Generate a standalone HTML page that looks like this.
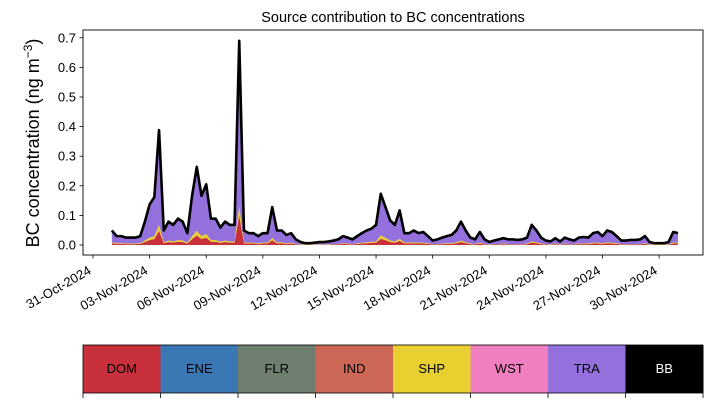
<!DOCTYPE html>
<html><head><meta charset="utf-8"><style>
html,body{margin:0;padding:0;background:#fff;}
svg{display:block;font-family:"Liberation Sans",sans-serif;}
</style></head><body>
<svg id="chart" width="713" height="402" viewBox="0 0 713 402" xmlns="http://www.w3.org/2000/svg">
<rect width="713" height="402" fill="#fff"/>
<text x="393" y="22" text-anchor="middle" font-size="14.5">Source contribution to BC concentrations</text>
<g id="layers"></g>
<rect x="83" y="30" width="620" height="225" fill="none" stroke="#000" stroke-width="0.9"/>
<g id="yticks"></g><g id="xticks"></g>
<text transform="translate(39,143) rotate(-90)" text-anchor="middle" font-size="18">BC concentration (ng m<tspan dy="-7" font-size="12">−3</tspan><tspan dy="7">)</tspan></text>
<g id="cbar"></g>
</svg>
<script>
const sources = ["DOM","ENE","FLR","IND","SHP","WST","TRA","BB"];
const colors = ["#c8313b","#3a78b5","#6e7f70","#cc6655","#e8d030","#f07fbf","#9370db","#000000"];
const startDay = 1; // days after 31-Oct
const stepDays = 0.25;
const tra = [.04,.024,.024,.02,.02,.02,.024,.064,.112,.132,
.32,.04,.064,.056,.072,.064,.032,.136,.216,.136,
.168,.072,.072,.048,.064,.056,.056,.56,.04,.032,
.032,.024,.032,.032,.104,.04,.04,.028,.032,.016,
.008,.004,.004,.006,.008,.008,.01,.012,.016,.024,
.02,.016,.024,.032,.04,.044,.056,.14,.104,.068,
.056,.096,.032,.032,.04,.032,.036,.024,.012,.016,
.02,.024,.028,.04,.064,.04,.02,.016,.036,.016,
.008,.012,.016,.018,.016,.016,.014,.016,.02,.056,
.04,.02,.012,.01,.018,.01,.02,.016,.012,.02,
.022,.02,.032,.036,.024,.04,.036,.024,.012,.012,
.014,.014,.016,.024,.008,.004,.004,.004,.008,.036,
.032];
const dom = [.006,.004,.004,.003,.003,.003,.004,.01,.017,.02,
.048,.006,.01,.008,.011,.01,.005,.02,.032,.02,
.025,.011,.011,.007,.01,.008,.008,.1,.006,.005,
.005,.004,.005,.005,.016,.006,.006,.004,.005,.002,
.001,.001,.001,.001,.001,.001,.001,.002,.002,.004,
.003,.002,.004,.005,.006,.007,.008,.021,.016,.01,
.008,.014,.005,.005,.006,.005,.005,.004,.002,.002,
.003,.004,.004,.006,.01,.006,.003,.002,.005,.002,
.001,.002,.002,.003,.002,.002,.002,.002,.003,.008,
.006,.003,.002,.001,.003,.001,.003,.002,.002,.003,
.003,.003,.005,.005,.004,.006,.005,.004,.002,.002,
.002,.002,.002,.004,.001,.001,.001,.001,.001,.005,
.005];
const shp = [.003,.002,.002,.002,.002,.002,.002,.005,.008,.01,
.02,.003,.005,.004,.006,.005,.003,.01,.016,.01,
.012,.006,.006,.004,.005,.004,.004,.03,.003,.003,
.003,.002,.003,.003,.008,.003,.003,.002,.003,.001,
.001,.001,.001,.001,.001,.001,.001,.001,.001,.002,
.002,.001,.002,.003,.003,.004,.004,.012,.008,.005,
.004,.007,.003,.003,.003,.003,.003,.002,.001,.001,
.002,.002,.002,.003,.005,.003,.002,.001,.003,.001,
.001,.001,.001,.002,.001,.001,.001,.001,.002,.004,
.003,.002,.001,.001,.002,.001,.002,.001,.001,.002,
.002,.002,.003,.003,.002,.003,.003,.002,.001,.001,
.001,.001,.001,.002,.001,.001,.001,.001,.001,.003,
.003];
const yTicks = [0,0.1,0.2,0.3,0.4,0.5,0.6,0.7];
const xTickDays = [0,3,6,9,12,15,18,21,24,27,30];
const xTickLabels = ["31-Oct-2024","03-Nov-2024","06-Nov-2024","09-Nov-2024","12-Nov-2024","15-Nov-2024","18-Nov-2024","21-Nov-2024","24-Nov-2024","27-Nov-2024","30-Nov-2024"];

const NS="http://www.w3.org/2000/svg";
const xS = d => 93 + d*18.87;
const yS = v => 245 - v*296;
function mk(tag, attrs, parent){const e=document.createElementNS(NS,tag);for(const k in attrs)e.setAttribute(k,attrs[k]);parent.appendChild(e);return e;}

const layersG=document.getElementById('layers');
const stack=[{name:'dom',vals:dom,color:colors[0]},{name:'shp',vals:shp,color:colors[4]},{name:'tra',vals:tra,color:colors[6]}];
const n=tra.length;
let base=new Array(n).fill(0);
stack.forEach(s=>{
  const top=base.map((b,i)=>b+s.vals[i]);
  let d='';
  for(let i=0;i<n;i++){d+=(i?'L':'M')+xS(startDay+i*stepDays).toFixed(2)+','+yS(top[i]).toFixed(2);}
  for(let i=n-1;i>=0;i--){d+='L'+xS(startDay+i*stepDays).toFixed(2)+','+yS(base[i]).toFixed(2);}
  const p=mk('path',{d:d+'Z',fill:s.color,stroke:'none'},layersG);
  
  
  base=top;
});
let dl='';
for(let i=0;i<n;i++){dl+=(i?'L':'M')+xS(startDay+i*stepDays).toFixed(2)+','+yS(base[i]).toFixed(2);}
const bbLine=mk('path',{d:dl,fill:'none',stroke:'#000','stroke-width':2.6,'stroke-linejoin':'round'},layersG);



const yg=document.getElementById('yticks');
yTicks.forEach(v=>{
  const y=yS(v);
  const t=mk('line',{x1:79.5,x2:83,y1:y,y2:y,stroke:'#000','stroke-width':0.8},yg);
  
  
  const l=mk('text',{x:76,y:y+4.5,'text-anchor':'end','font-size':13},yg);
  l.textContent=v.toFixed(1);
  
  
});
const xg=document.getElementById('xticks');
xTickDays.forEach((d,i)=>{
  const x=xS(d);
  const t=mk('line',{x1:x,x2:x,y1:255,y2:258.5,stroke:'#000','stroke-width':0.8},xg);
  
  
  const l=mk('text',{transform:`translate(${x-1},${273}) rotate(-30)`,'text-anchor':'end','font-size':13},xg);
  l.textContent=xTickLabels[i];
  
  
});
const cg=document.getElementById('cbar');
const cw=620/sources.length;
sources.forEach((s,i)=>{
  const x=83+i*cw;
  const r=mk('rect',{x:x,y:345,width:cw+0.5,height:48,fill:colors[i]},cg);
  
  
  const t=mk('text',{x:x+cw/2,y:373,'text-anchor':'middle','font-size':13,fill:s==='BB'?'#fff':'#000'},cg);
  t.textContent=s;
  
  
});
for(let i=0;i<=sources.length;i++){
  const x=83+i*cw;
  const t=mk('line',{x1:x,x2:x,y1:393,y2:398,stroke:'#000','stroke-width':0.8},cg);
  
  
}
const fr=mk('rect',{x:83,y:345,width:620,height:48,fill:'none',stroke:'#000','stroke-width':0.8},cg);


</script>
</body></html>
